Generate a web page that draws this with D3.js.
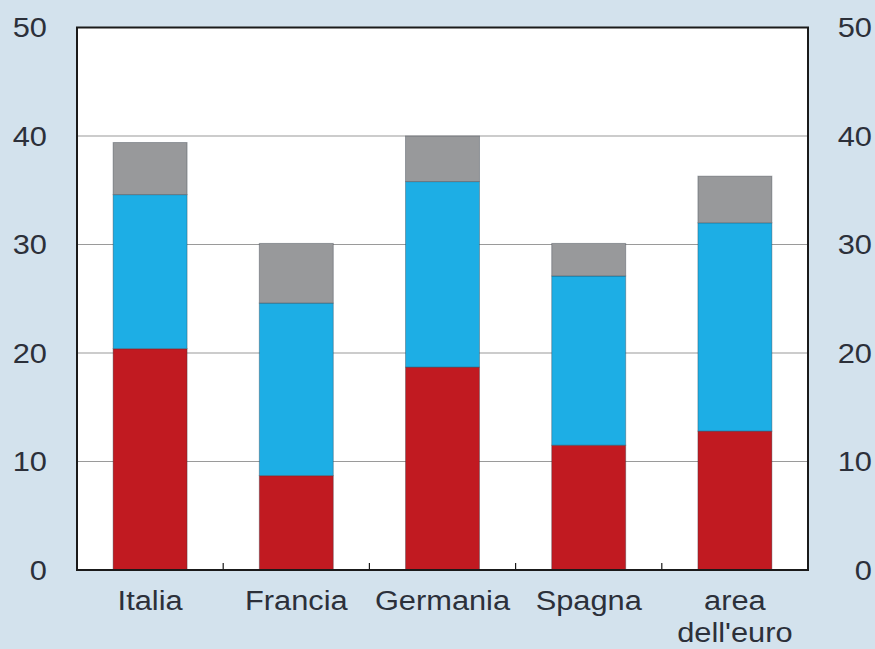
<!DOCTYPE html>
<html>
<head>
<meta charset="utf-8">
<script src="https://cdn.jsdelivr.net/npm/d3@7"></script>
<style>
  html, body { margin: 0; padding: 0; background: #d3e2ed; }
  svg { display: block; }
  text { font-family: "Liberation Sans", Arial, sans-serif; fill: #2c303a; }
</style>
</head>
<body>
<svg id="chart" width="875" height="649"></svg>
<script>
// Categories (x axis)
const categories = ["Italia", "Francia", "Germania", "Spagna", "area dell'euro"];
// Stacked components, bottom to top
const seriesRed  = [20.4,  8.7, 18.7, 11.5, 12.8];
const seriesBlue = [14.2, 15.9, 17.1, 15.6, 19.2];
const seriesGray = [ 4.8,  5.5,  4.2,  3.0,  4.3];
// Axis ticks
const yTicks = [0, 10, 20, 30, 40, 50];

const seriesKeys = ["red", "blue", "gray"];
const colors = { red: "#c11a21", blue: "#1daee5", gray: "#98999b" };

const rows = categories.map((c, i) => ({
  cat: c, red: seriesRed[i], blue: seriesBlue[i], gray: seriesGray[i]
}));

const W = 875, H = 649;
const m = { left: 77, right: 67, top: 27.5, bottom: 79 };
const svg = d3.select("#chart");

const x = d3.scaleBand()
  .domain(categories)
  .range([m.left, W - m.right])
  .paddingInner(0.494)
  .paddingOuter(0.247);

const y = d3.scaleLinear().domain([0, 50]).range([H - m.bottom, m.top]);

// Plot area
svg.append("rect")
  .attr("x", m.left).attr("y", m.top)
  .attr("width", W - m.left - m.right).attr("height", H - m.top - m.bottom)
  .attr("fill", "#ffffff");

// Gridlines
svg.append("g").selectAll("line")
  .data(yTicks.filter(t => t > 0 && t < 50))
  .join("line")
  .attr("x1", m.left).attr("x2", W - m.right)
  .attr("y1", d => y(d)).attr("y2", d => y(d))
  .attr("stroke", "#9a9a9a").attr("stroke-width", 1.2);

// Stacked bars
const stack = d3.stack().keys(seriesKeys)(rows);
svg.append("g").selectAll("g")
  .data(stack)
  .join("g")
  .attr("fill", d => colors[d.key])
  .selectAll("rect")
  .data(d => d)
  .join("rect")
  .attr("x", d => x(d.data.cat))
  .attr("width", x.bandwidth())
  .attr("y", d => y(d[1]))
  .attr("height", d => y(d[0]) - y(d[1]))
  .attr("stroke", "rgba(40,50,60,0.35)")
  .attr("stroke-width", 1);

// Frame
svg.append("rect")
  .attr("x", m.left).attr("y", m.top)
  .attr("width", W - m.left - m.right).attr("height", H - m.top - m.bottom)
  .attr("fill", "none").attr("stroke", "#1a1a1a").attr("stroke-width", 2);

// Category separators on the bottom axis
const step = x.step();
const seps = categories.slice(1).map(c => x(c) - x.paddingInner() * step / 2);
svg.append("g").selectAll("line")
  .data(seps)
  .join("line")
  .attr("x1", d => d).attr("x2", d => d)
  .attr("y1", y(0)).attr("y2", y(0) - 7)
  .attr("stroke", "#1a1a1a").attr("stroke-width", 1.2);

// Labels use a slightly wide setting of the font
const fs = 28, sx = 1.1;
const place = (sel, px, py) => sel.attr("transform", `translate(${px},${py}) scale(${sx},1)`);

// Y axis labels, both sides
[47, 872].forEach(xp => {
  svg.append("g").selectAll("text")
    .data(yTicks)
    .join("text")
    .each(function (d) { place(d3.select(this), xp, y(d)); })
    .attr("dy", "0.35em")
    .attr("text-anchor", "end")
    .attr("font-size", fs)
    .text(d => d);
});

// Category labels
const lab = svg.append("g");
categories.forEach(c => {
  const cx = x(c) + x.bandwidth() / 2;
  const parts = c === "area dell'euro" ? ["area", "dell'euro"] : [c];
  parts.forEach((p, j) => {
    place(lab.append("text"), cx, 610 + j * 32)
      .attr("text-anchor", "middle")
      .attr("font-size", fs)
      .text(p);
  });
});
</script>
</body>
</html>
